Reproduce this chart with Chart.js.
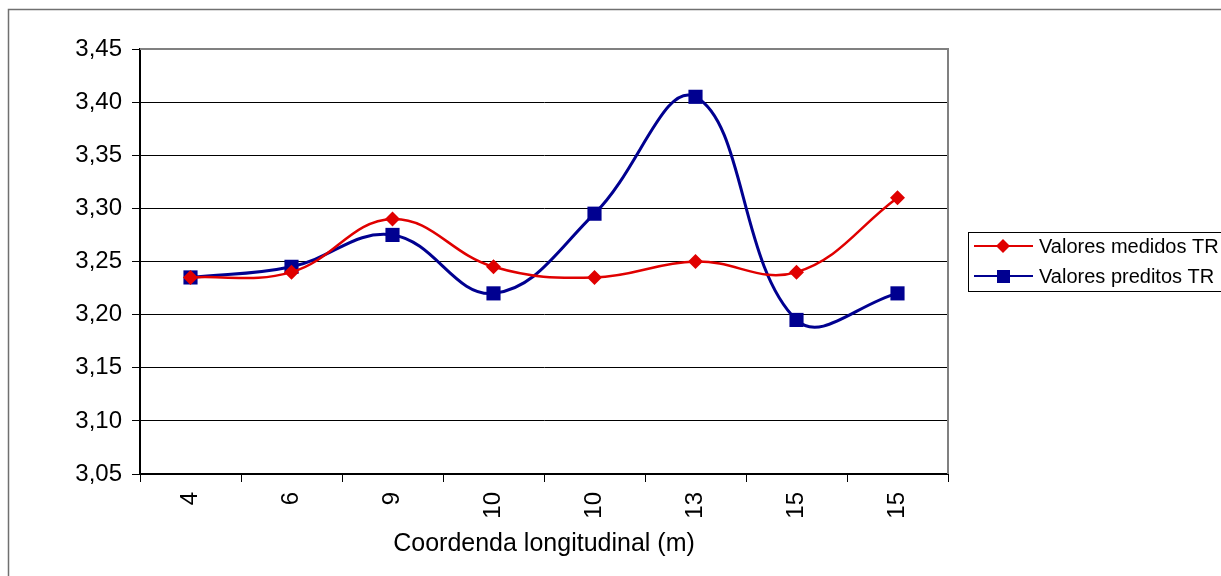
<!DOCTYPE html>
<html>
<head>
<meta charset="utf-8">
<script src="https://cdn.jsdelivr.net/npm/chart.js@4"></script>
<style>
  body { margin: 0; background: #fff; }
  canvas { display: block; }
</style>
</head>
<body>
<canvas id="grafico" width="1221" height="576"></canvas>
<script>
const categorias = ["4", "6", "9", "10", "10", "13", "15", "15"];
const valoresMedidos = [3.235, 3.24, 3.29, 3.245, 3.235, 3.25, 3.24, 3.31];
const valoresPreditos = [3.235, 3.245, 3.275, 3.22, 3.295, 3.405, 3.195, 3.22];
const nomesSeries = ["Valores medidos TR", "Valores preditos TR"];
const tituloEixoX = "Coordenda longitudinal (m)";

const FONTE = "Arial, 'Liberation Sans', sans-serif";

// moldura externa, borda da area de plotagem e legenda com caixa (estilo Excel)
const molduraPlugin = {
    id: "moldura",
    afterDraw(chart) {
        const ctx = chart.ctx;
        const a = chart.chartArea;
        ctx.save();
        ctx.strokeStyle = "#707070";
        ctx.lineWidth = 1.5;
        ctx.beginPath();
        ctx.moveTo(8.5, 580);
        ctx.lineTo(8.5, 9.5);
        ctx.lineTo(1230, 9.5);
        ctx.stroke();

        ctx.strokeStyle = "#808080";
        ctx.lineWidth = 2;
        ctx.beginPath();
        ctx.moveTo(a.left, a.top);
        ctx.lineTo(a.right, a.top);
        ctx.lineTo(a.right, a.bottom);
        ctx.stroke();

        // legenda
        const lx = 968, ly = 232, lw = 260, lh = 59;
        ctx.strokeStyle = "#000";
        ctx.lineWidth = 1;
        ctx.strokeRect(lx + 0.5, ly + 0.5, lw, lh);
        ctx.font = "20px " + FONTE;
        ctx.textBaseline = "middle";
        ctx.textAlign = "left";
        chart.data.datasets.forEach((ds, i) => {
            const y = 246 + i * 30;
            ctx.strokeStyle = ds.borderColor;
            ctx.lineWidth = 2;
            ctx.beginPath();
            ctx.moveTo(974, y);
            ctx.lineTo(1033, y);
            ctx.stroke();
            ctx.fillStyle = ds.borderColor;
            ctx.beginPath();
            if (ds.pointStyle === "rectRot") {
                ctx.moveTo(1003, y - 7);
                ctx.lineTo(1010, y);
                ctx.lineTo(1003, y + 7);
                ctx.lineTo(996, y);
                ctx.closePath();
            } else {
                ctx.rect(997, y - 6, 13, 13);
            }
            ctx.fill();
            ctx.fillStyle = "#000";
            ctx.fillText(ds.label, 1039, y + 1);
        });
        ctx.restore();
    }
};

new Chart(document.getElementById("grafico"), {
    type: "line",
    data: {
        labels: categorias,
        datasets: [{
            label: nomesSeries[0],
            data: valoresMedidos,
            borderColor: "#E00000",
            backgroundColor: "#E00000",
            borderWidth: 2.5,
            pointStyle: "rectRot",
            pointRadius: 7.5,
            pointBorderWidth: 0,
            tension: 0.4
        }, {
            label: nomesSeries[1],
            data: valoresPreditos,
            borderColor: "#000090",
            backgroundColor: "#000090",
            borderWidth: 3,
            pointStyle: "rect",
            pointRadius: 10,
            pointBorderWidth: 0,
            tension: 0.4
        }]
    },
    options: {
        responsive: false,
        animation: false,
        layout: { padding: { left: 8, top: 49, right: 273, bottom: 0 } },
        plugins: {
            legend: { display: false },
            tooltip: { enabled: false }
        },
        scales: {
            x: {
                offset: true,
                grid: {
                    offset: true,
                    drawOnChartArea: false,
                    drawTicks: true,
                    tickLength: 8,
                    color: "#000"
                },
                border: { color: "#000", width: 2 },
                ticks: {
                    color: "#000",
                    font: { family: FONTE, size: 24 },
                    maxRotation: 90,
                    minRotation: 90,
                    padding: 10,
                    autoSkip: false
                },
                title: {
                    display: true,
                    text: tituloEixoX,
                    color: "#000",
                    font: { family: FONTE, size: 25 },
                    padding: { top: 0, bottom: 17 }
                },
                afterFit(scale) { scale.height = 102; }
            },
            y: {
                min: 3.05,
                max: 3.45,
                grid: {
                    color: ctx => ctx.tick && ctx.tick.value >= 3.449 ? "#808080" : "#000",
                    lineWidth: 1,
                    tickLength: 8,
                    tickColor: "#000"
                },
                border: { color: "#000", width: 2 },
                ticks: {
                    stepSize: 0.05,
                    color: "#000",
                    padding: 10,
                    font: { family: FONTE, size: 24 },
                    callback: v => v.toFixed(2).replace(".", ",")
                },
                afterFit(scale) { scale.width = 132; }
            }
        }
    },
    plugins: [molduraPlugin]
});
</script>
</body>
</html>
